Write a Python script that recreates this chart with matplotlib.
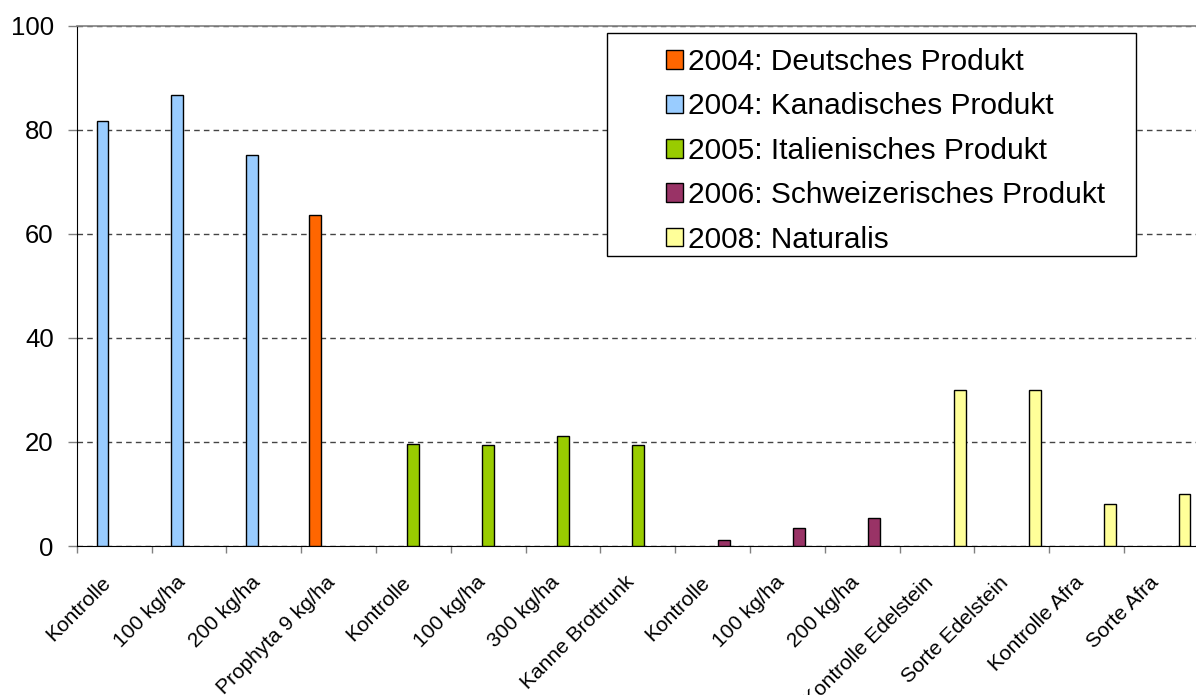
import matplotlib
matplotlib.use("Agg")
import matplotlib.pyplot as plt
import matplotlib.transforms as mtransforms
import numpy as np
from matplotlib.patches import Rectangle
from matplotlib.ticker import FixedLocator, FixedFormatter

plt.rcParams["font.family"] = ["Liberation Sans", "DejaVu Sans"]

categories = [
    "Kontrolle", "100 kg/ha", "200 kg/ha", "Prophyta 9 kg/ha",
    "Kontrolle", "100 kg/ha", "300 kg/ha", "Kanne Brottrunk",
    "Kontrolle", "100 kg/ha", "200 kg/ha",
    "Kontrolle Edelstein", "Sorte Edelstein", "Kontrolle Afra", "Sorte Afra",
]
series_names = [
    "2004: Deutsches Produkt",
    "2004: Kanadisches Produkt",
    "2005: Italienisches Produkt",
    "2006: Schweizerisches Produkt",
    "2008: Naturalis",
]
colors = ["#FF6600", "#99CCFF", "#99CC00", "#993366", "#FFFF99"]

# one value per category, zero where the series has no bar
deutsch = [0, 0, 0, 63.7, 0, 0, 0, 0, 0, 0, 0, 0, 0, 0, 0]
kanadisch = [81.7, 86.7, 75.2, 0, 0, 0, 0, 0, 0, 0, 0, 0, 0, 0, 0]
italienisch = [0, 0, 0, 0, 19.7, 19.4, 21.2, 19.4, 0, 0, 0, 0, 0, 0, 0]
schweiz = [0, 0, 0, 0, 0, 0, 0, 0, 1.2, 3.5, 5.3, 0, 0, 0, 0]
naturalis = [0, 0, 0, 0, 0, 0, 0, 0, 0, 0, 0, 29.9, 29.9, 8.0, 10.0]
series_values = [deutsch, kanadisch, italienisch, schweiz, naturalis]

fig = plt.figure(figsize=(11.96, 6.95), dpi=100)
ax = fig.add_axes([76.7 / 1196, 1 - 546 / 695, (1198.7 - 76.7) / 1196, (546 - 25.7) / 695])

n = len(categories)
x = np.arange(n)
width = 0.156
handles = []
for i, (vals, col, name) in enumerate(zip(series_values, colors, series_names)):
    vals = np.array(vals, dtype=float)
    mask = vals > 0
    pos = x[mask] + 0.5 + (i - 2) * width
    ax.bar(pos, vals[mask], width=width, color=col, edgecolor="black",
           linewidth=1.0, zorder=3)
    handles.append(Rectangle((0, 0), 1, 1, facecolor=col, edgecolor="black", linewidth=1.0))

ax.set_xlim(0, n)
ax.set_ylim(0, 100)
ax.set_yticks([0, 20, 40, 60, 80, 100])
ax.tick_params(axis="y", labelsize=18.5, length=6.5, width=1, color="#808080", pad=10)

ax.xaxis.set_major_locator(FixedLocator(np.arange(n + 1)))
ax.xaxis.set_major_formatter(FixedFormatter([""] * (n + 1)))
ax.xaxis.set_minor_locator(FixedLocator(x + 0.5))
ax.xaxis.set_minor_formatter(FixedFormatter(categories))
ax.tick_params(axis="x", which="major", length=5, width=1, color="#808080")
ax.tick_params(axis="x", which="minor", length=0, labelsize=15, pad=24)
shift = mtransforms.ScaledTranslation(-6 / 100, 0, fig.dpi_scale_trans)
for lab in ax.get_xticklabels(minor=True):
    lab.set_rotation(45)
    lab.set_ha("right")
    lab.set_va("center")
    lab.set_rotation_mode("anchor")
    lab.set_transform(lab.get_transform() + shift)

ax.yaxis.grid(True, color="#444444", linestyle=(0, (4, 3)), linewidth=1)
ax.set_axisbelow(True)
ax.spines["right"].set_visible(False)
ax.spines["top"].set_color("#808080")
ax.spines["top"].set_linewidth(1.2)
ax.spines["left"].set_color("black")
ax.spines["bottom"].set_color("black")

# legend frame
fig.patches.append(Rectangle((607 / 1196, 1 - 256 / 695), (1136 - 607) / 1196, (256 - 33) / 695,
                             transform=fig.transFigure, facecolor="white",
                             edgecolor="black", linewidth=1.0, zorder=5))
leg = fig.legend(handles, series_names, loc="upper left",
                 bbox_to_anchor=(666 / 1196, 1 - 48 / 695), frameon=False,
                 fontsize=21.5, handlelength=0.58, handleheight=0.58,
                 handletextpad=0.15, labelspacing=0.55, borderpad=0, borderaxespad=0)
leg.set_zorder(6)

fig.savefig("out.png", dpi=100)
